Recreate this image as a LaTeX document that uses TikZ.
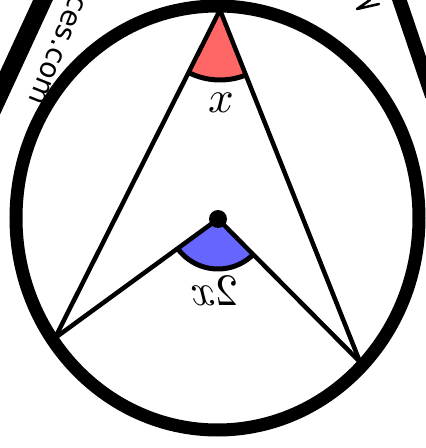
\documentclass[tikz,border=0pt]{standalone}
\usepackage{fontspec}
\newfontfamily\sitefont{DejaVu Sans}
\usetikzlibrary{angles,calc}
\definecolor{sectred}{RGB}{255,102,102}
\definecolor{sectblue}{RGB}{102,102,255}
\begin{document}
\begin{tikzpicture}[x=1pt,y=1pt,
  chord/.style={line width=4.5pt},
  rim/.style={line width=13pt},
  band/.style={line width=18pt},
  sector/.style={draw=black,line width=5pt},
  anglelabel/.style={inner sep=0pt}]
\useasboundingbox (0,0) rectangle (426,448);
\clip (0,0) rectangle (426,448);
\fill[white] (0,0) rectangle (426,448);
% outside bands and text
\coordinate (b1s) at (52.2,468);
\coordinate (b1e) at (-9.2,335);
\draw[band] (b1s) -- (b1e);
\coordinate (b2s) at (394,464);
\coordinate (b2e) at (432,352);
\draw[line width=14pt] (b2s) -- (b2e);
\node[rotate=-111.8,inner sep=0pt,font=\sitefont\fontsize{28}{28}\selectfont] (site) at (57,398) {ces.com};
\coordinate (f1) at (370,448);
\coordinate (f2) at (357,439);
\coordinate (f3) at (379,444);
\draw[line width=2.5pt,line join=round,line cap=round] (f1) -- (f2) -- (f3);
% points
\coordinate (A) at (220,438);
\coordinate (B) at (55,110);
\coordinate (C) at (360,86);
\coordinate (O) at (218,229);
\coordinate (E) at (217.5,230);
% sectors
\pic[fill=sectred,sector,angle radius=70pt] {angle=B--A--C};
\pic[fill=sectblue,sector,angle radius=50pt] {angle=B--O--C};
% chords
\draw[chord] (A) -- (B);
\draw[chord] (A) -- (C);
\draw[chord] (O) -- (B);
\draw[chord] (O) -- (C);
% circle
\draw[rim] (E) ellipse [x radius=201.5pt, y radius=212pt];
\fill (O) circle [radius=9pt];
% labels
\node[anglelabel] (lx) at (221,345) {\scalebox{4.5}{$x$}};
\node[anglelabel] (l2x) at (214,157) {\scalebox{-4.5}[4.5]{$2x$}};
\end{tikzpicture}
\end{document}
